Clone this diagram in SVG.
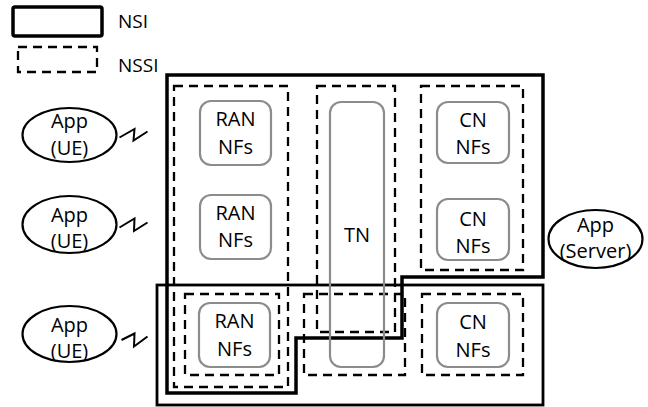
<svg xmlns="http://www.w3.org/2000/svg" width="648" height="407" viewBox="0 0 648 407">
<style>
text{font-family:"Open Sans","Liberation Sans",sans-serif;font-size:20px;fill:#000;text-anchor:middle}
.leg{font-size:19px;text-anchor:start}
.nsi{fill:none;stroke:#000;stroke-width:3.5}
.nssi{fill:none;stroke:#000;stroke-width:2.3;stroke-dasharray:9 6}
.nf{fill:#fff;stroke:#8c8c8c;stroke-width:2.2}
.app{fill:#fff;stroke:#000;stroke-width:2.2}
.bolt{fill:none;stroke:#000;stroke-width:2;stroke-linejoin:miter}
</style>
<rect width="648" height="407" fill="#fff"/>
<g id="legend">
<rect x="13" y="7" width="89" height="29" rx="2" class="nsi"/>
<text x="118" y="28" class="leg">NSI</text>
<rect x="18" y="47" width="79" height="25" class="nssi"/>
<text x="118" y="72" class="leg">NSSI</text>
</g>
<g id="nsi-1">
<path d="M167,75 H543 V277 H402 V338 H296 V393 H167 Z" class="nsi"/>
</g>
<g id="nsi-2">
<rect x="157" y="285" width="386" height="120" class="nsi" style="stroke-width:2.8"/>
</g>
<g id="nssi-ran-1"><rect x="174" y="86" width="114" height="301" class="nssi"/></g>
<g id="nssi-tn-1"><rect x="317" y="86" width="78" height="246" class="nssi"/></g>
<g id="nssi-cn-1"><rect x="421" y="86" width="102" height="184" class="nssi"/></g>
<g id="nssi-ran-2"><rect x="185" y="294" width="94" height="81" class="nssi"/></g>
<g id="nssi-tn-2"><rect x="304" y="294" width="101" height="81" class="nssi"/></g>
<g id="nssi-cn-2"><rect x="422" y="294" width="101" height="81" class="nssi"/></g>
<g id="ran-nfs-1">
<rect x="200" y="101" width="71" height="64" rx="11" class="nf"/>
<text x="235.5" y="126">RAN</text><text x="235.5" y="154">NFs</text>
</g>
<g id="ran-nfs-2">
<rect x="200" y="195" width="71" height="64" rx="11" class="nf"/>
<text x="235.5" y="220">RAN</text><text x="235.5" y="247">NFs</text>
</g>
<g id="ran-nfs-3">
<rect x="199" y="303" width="71" height="64" rx="11" class="nf"/>
<text x="234.5" y="328">RAN</text><text x="234.5" y="356">NFs</text>
</g>
<g id="tn">
<rect x="330" y="102" width="54" height="265" rx="11" class="nf" style="fill:none"/>
<text x="357" y="242">TN</text>
</g>
<g id="cn-nfs-1">
<rect x="437" y="102" width="72" height="61" rx="11" class="nf"/>
<text x="473" y="127">CN</text><text x="473" y="154">NFs</text>
</g>
<g id="cn-nfs-2">
<rect x="437" y="199" width="72" height="61" rx="11" class="nf"/>
<text x="473" y="226">CN</text><text x="473" y="253">NFs</text>
</g>
<g id="cn-nfs-3">
<rect x="437" y="303" width="72" height="64" rx="11" class="nf"/>
<text x="473" y="329">CN</text><text x="473" y="357">NFs</text>
</g>
<g id="app-ue-1">
<ellipse cx="69.5" cy="135" rx="47" ry="27" class="app"/>
<text x="69.5" y="128">App</text><text x="69.5" y="155">(UE)</text>
</g>
<g id="app-ue-2">
<ellipse cx="69.5" cy="224.5" rx="47" ry="28.5" class="app"/>
<text x="69.5" y="222">App</text><text x="69.5" y="248">(UE)</text>
</g>
<g id="app-ue-3">
<ellipse cx="69.5" cy="334" rx="47" ry="28" class="app"/>
<text x="69.5" y="332">App</text><text x="69.5" y="358">(UE)</text>
</g>
<g id="app-server">
<ellipse cx="595.5" cy="239" rx="47" ry="29" class="app"/>
<text x="595.5" y="232">App</text><text x="595.5" y="258">(Server)</text>
</g>
<g id="connectors">
<path d="M119.5,137.5 L134.5,129 L133.5,140.5 L147.5,131.5" class="bolt"/>
<path d="M119.5,227.5 L134.5,218.5 L134,231 L147.5,222.5" class="bolt"/>
<path d="M121.5,340 L134.5,333.5 L134,346.5 L147.5,336.5" class="bolt"/>
</g>
</svg>
